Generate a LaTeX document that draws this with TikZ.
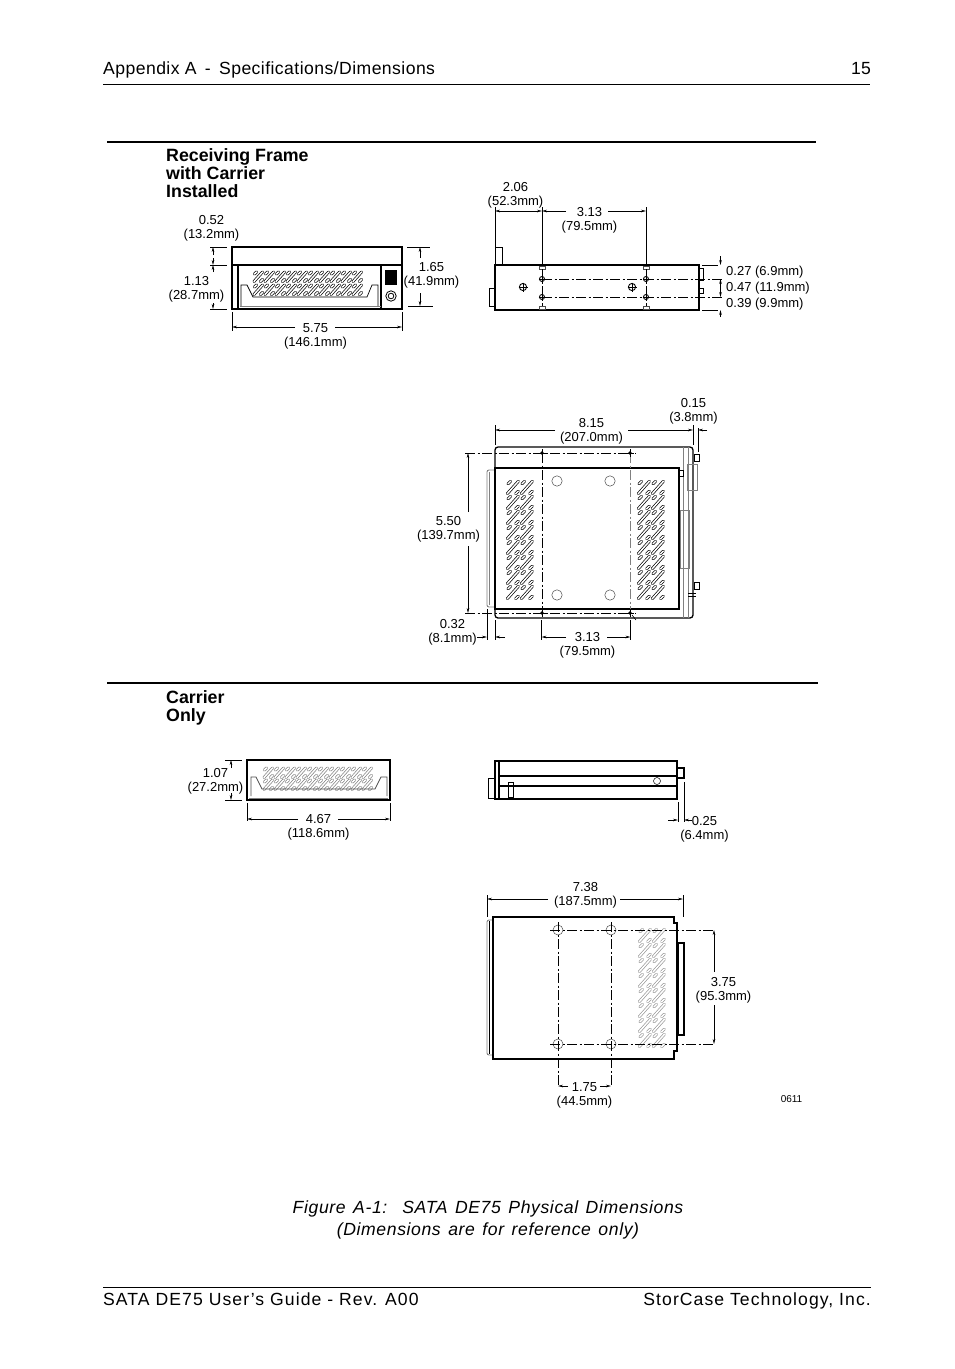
\documentclass[tikz,border=0pt]{standalone}
\usepackage{fontspec}
\setmainfont{Liberation Sans}
\usetikzlibrary{arrows.meta}
\newcommand{\capgap}{\hskip 7.5pt\relax}
\tikzset{
	dimtext/.style={font=\fontsize{13}{14}\selectfont, align=center, inner sep=0pt, yshift=-1.5pt, xshift=0.5pt},
	dimside/.style={font=\fontsize{13}{14}\selectfont, anchor=west, inner sep=0pt, yshift=-1.5pt},
	head/.style={font=\fontsize{17.8}{18}\selectfont\bfseries, align=left, anchor=north west, inner sep=0pt},
	pagetext/.style={font=\fontsize{17.6}{20}\selectfont, inner sep=0pt},
	body/.style={line width=1.3pt},
	heavy/.style={line width=1.8pt},
	greyline/.style={line width=0.9pt, draw=black!50},
	ext/.style={line width=0.7pt},
	dim/.style={line width=0.7pt, -{Stealth[length=5pt,width=2.6pt]}},
	center line/.style={line width=0.7pt, dash pattern=on 10pt off 2.5pt on 2pt off 2.5pt},
	ventcell/.pic={
		\draw[draw=#1, line width=0.7pt, double=white, double distance=1.5pt, line cap=round] (1,10.5) -- (9.5,1);
		\draw[draw=#1, line width=0.7pt, double=white, double distance=1.5pt, line cap=round] (1.5,3) -- (3.5,1) (7.5,10.5) -- (9.5,8.5);
	},
	bighole/.pic={
		\draw[line width=0.9pt] (0,0) circle [radius=3.6];
		\draw[line width=0.7pt] (-4.5,0) -- (4.5,0) (0,-4.5) -- (0,4.5);
	}
}
\begin{document}
\begin{tikzpicture}[x=1pt, y=-1pt]
	\useasboundingbox (0,0) rectangle (954,1369);
	\fill[white] (0,0) rectangle (954,1369);

	% page head and foot
	\node[pagetext, anchor=base west] (headleft) at (103,74) {\addfontfeature{LetterSpace=2.5}Appendix A \,-\, Specifications/Dimensions};
	\node[pagetext, anchor=base east] (headright) at (871,74) {15};
	\draw[line width=0.7pt] (103,84) -- (870,84);
	\draw[line width=0.7pt] (103,1287) -- (871,1287);
	\node[pagetext, anchor=base west] (footleft) at (103,1305) {\addfontfeature{LetterSpace=6}SATA DE75 User's Guide - Rev. A00};
	\node[pagetext, anchor=base east] (footright) at (871,1305) {\addfontfeature{LetterSpace=6}StorCase Technology, Inc.};
	\node[pagetext, align=center, font=\fontsize{17.6}{22}\selectfont\itshape\addfontfeature{LetterSpace=3.5}] (caption) at (488,1220) {Figure\capgap A-1:\capgap\capgap SATA\capgap DE75\capgap Physical\capgap Dimensions\\(Dimensions\capgap are\capgap for\capgap reference\capgap only)};

	% section rules
	\draw[line width=2pt] (107,142) -- (816,142);
	\draw[line width=2pt] (107,683) -- (818,683);
	\node[head] (headframe) at (166,148.5) {Receiving Frame\\with Carrier\\Installed};
	\node[head] (headcarrier) at (166,690.5) {Carrier\\Only};

	% frame, front view
	\draw[body] (232,247) rectangle (402,309);
	\draw[body] (232,265) -- (402,265);
	\draw[body] (238,265) -- (238,309) (381,265) -- (381,309);
	\draw[greyline] (240,306) -- (381,306);
	\fill (385,270) rectangle (397,285);
	\draw[line width=0.8pt] (391,296) circle [radius=5.2];
	\draw[line width=0.8pt] (391,296) circle [radius=2.8];
	\foreach \i in {0,...,9} \foreach \j in {0,1}
		\pic at (253+\i*11,271+\j*13) {ventcell=black};
	\draw[line width=0.7pt] (241,306) -- (241,285) -- (247,285) -- (253,297) -- (367,297) -- (372,285) -- (378,285) -- (378,306);
	\draw[ext] (210,247) -- (227,247) (210,265) -- (227,265) (210,309) -- (227,309);
	\draw[dim] (213,255) -- (213,247);
	\draw[dim] (213,258) -- (213,265);
	\draw[dim] (213,272) -- (213,265);
	\draw[dim] (213,303) -- (213,309);
	\draw[ext] (407,247) -- (430,247) (408,306) -- (433,306);
	\draw[dim] (420,258) -- (420,247);
	\draw[dim] (420,293) -- (420,306);
	\draw[ext] (232,312) -- (232,331) (402,312) -- (402,331);
	\draw[dim] (295,327) -- (232,327);
	\draw[dim] (335,327) -- (402,327);
	\node[dimtext] (dimA) at (211,226.5) {0.52\\(13.2mm)};
	\node[dimtext] (dimB) at (196,288) {1.13\\(28.7mm)};
	\node[dimtext] (dimC) at (431,273.5) {1.65\\(41.9mm)};
	\node[dimtext] (dimD) at (315,334.5) {5.75\\(146.1mm)};

	% frame, side view
	\draw[heavy] (495,265) rectangle (699,310);
	\draw[line width=0.8pt] (495,247) rectangle (502,265);
	\draw[line width=0.6pt] (489,288) rectangle (495,306);
	\draw[line width=0.7pt] (699,268) rectangle (703,280) (699,288) rectangle (703,293);
	\foreach \x in {542,646} {
		\draw[line width=0.5pt, draw=black!70] (\x-3,266) rectangle (\x+3,269);
		\draw[line width=0.5pt, draw=black!70] (\x-3,306) rectangle (\x+3,309);
		\draw[ext] (\x,207) -- (\x,265);
		\pic[scale=0.7] at (\x,279) {bighole};
		\pic[scale=0.7] at (\x,297) {bighole};
	}
	\pic at (523,287) {bighole};
	\pic at (632,287) {bighole};
	\draw[center line] (542,279) -- (722,279);
	\draw[center line] (542,297) -- (722,297);
	\draw[center line] (542,269) -- (542,306);
	\draw[center line] (646,269) -- (646,306);
	\draw[ext] (495,207) -- (495,247);
	\draw[dim] (520,211) -- (495,211);
	\draw[dim] (520,211) -- (542,211);
	\draw[dim] (566,211) -- (542,211);
	\draw[dim] (608,211) -- (646,211);
	\draw[ext] (702,265) -- (718,265) (702,310) -- (718,310);
	\draw[dim] (720.5,256) -- (720.5,265);
	\draw[dim] (720.5,288) -- (720.5,279);
	\draw[dim] (720.5,288) -- (720.5,297);
	\draw[dim] (720.5,317) -- (720.5,310);
	\node[dimtext] (dimE) at (515,193.5) {2.06\\(52.3mm)};
	\node[dimtext] (dimF) at (589,219) {3.13\\(79.5mm)};
	\node[dimside] (dimG) at (726,271) {0.27 (6.9mm)};
	\node[dimside] (dimH) at (726,287) {0.47 (11.9mm)};
	\node[dimside] (dimI) at (726,303) {0.39 (9.9mm)};

	% frame, top view
	\draw[body, rounded corners=3pt] (495,447) -- (693,447) -- (693,618) -- (495,618) -- cycle;
	\draw[greyline] (683,447) -- (683,618) (688,447) -- (688,618);
	\draw[greyline, rounded corners=2pt] (495,470) -- (487,470) -- (487,607) -- (495,607);
	\draw[greyline] (489,472) -- (489,605);
	\draw[line width=0.7pt] (694,454) rectangle (699,461) (694,582) rectangle (699,589);
	\draw[line width=0.7pt] (679,470) rectangle (683,476);
	\draw[greyline] (687,464) rectangle (697,490);
	\draw[greyline] (680,510) rectangle (689,568);
	\draw[line width=0.7pt] (688,593) -- (696,593) (688,596) -- (696,596);
	\fill[white] (495,468) rectangle (679,609);
	\draw[heavy] (495,468) rectangle (679,609);
	\foreach \i in {0,1} \foreach \j in {0,...,7} {
		\pic[scale=1.3] at (506+\i*14,480+\j*15) {ventcell=black};
		\pic[scale=1.3] at (637+\i*14,480+\j*15) {ventcell=black};
	}
	\foreach \x in {557,610} \foreach \y in {481,595}
		\draw[line width=0.5pt, draw=black!70] (\x,\y) circle [radius=5.2];
	\draw[center line] (465,453) -- (636,453);
	\draw[center line] (465,613) -- (636,613);
	\draw[center line] (542,453) -- (542,613);
	\draw[center line, draw=black!50] (630,453) -- (630,613);
	\foreach \x in {542,630} \foreach \y in {453,613} {
		\fill (\x,\y) circle [radius=1.8];
		\draw[line width=0.6pt] (\x-4,\y) -- (\x+4,\y) (\x,\y-4) -- (\x,\y+4);
	}
	\draw[line width=0.6pt] (632,615) -- (636,620);
	\draw[ext] (495,425) -- (495,445) (693,425) -- (693,445) (698,428) -- (698,452);
	\draw[dim] (555,430) -- (495,430);
	\draw[dim] (628,430) -- (693,430);
	\draw[dim] (707,430) -- (698,430);
	\draw[dim] (468,512) -- (468,453);
	\draw[dim] (468,546) -- (468,613);
	\draw[ext] (487,609) -- (487,640) (495,620) -- (495,640);
	\draw[ext] (541.5,620) -- (541.5,640) (630.5,620) -- (630.5,640);
	\draw[dim] (477,637) -- (487,637);
	\draw[dim] (505,637) -- (495,637);
	\draw[dim] (566,637) -- (541.5,637);
	\draw[dim] (607,637) -- (630.5,637);
	\node[dimtext] (dimJ) at (693,409.5) {0.15\\(3.8mm)};
	\node[dimtext] (dimK) at (591,429.5) {8.15\\(207.0mm)};
	\node[dimtext] (dimL) at (448,528) {5.50\\(139.7mm)};
	\node[dimtext] (dimM) at (452,631) {0.32\\(8.1mm)};
	\node[dimtext] (dimN) at (587,644) {3.13\\(79.5mm)};

	% carrier, front view
	\draw[heavy] (247,760) rectangle (390,800);
	\draw[greyline] (249,798) -- (388,798);
	\foreach \i in {0,...,9} \foreach \j in {0,1}
		\pic at (263+\i*11,767+\j*12) {ventcell=black!50};
	\draw[line width=0.7pt, draw=black!70] (251,796) -- (251,777) -- (256,777) -- (262,789) -- (375,789) -- (381,777) -- (387,777) -- (387,796);
	\draw[ext] (225,760) -- (242,760) (225,800) -- (242,800);
	\draw[dim] (231,768) -- (231,760);
	\draw[dim] (231,793) -- (231,800);
	\draw[ext] (247,803) -- (247,821) (390,803) -- (390,821);
	\draw[dim] (298,819) -- (247,819);
	\draw[dim] (338,819) -- (390,819);
	\node[dimtext] (dimO) at (215,780) {1.07\\(27.2mm)};
	\node[dimtext] (dimP) at (318,826) {4.67\\(118.6mm)};

	% carrier, side view
	\draw[body] (495,761) rectangle (677,799);
	\draw[heavy] (499,761) -- (499,799);
	\draw[body] (499,776) -- (677,776) (499,786) -- (677,786);
	\draw[line width=0.7pt] (488,778) rectangle (495,798);
	\draw[line width=0.7pt] (508,782) rectangle (513,797);
	\draw[heavy] (677,768) -- (684,768) -- (684,778) -- (677,778);
	\draw[line width=0.5pt] (657,781) circle [radius=3.5];
	\draw[ext] (678,802) -- (678,822) (684,782) -- (684,822);
	\draw[dim] (668,820) -- (678,820);
	\draw[dim] (692,820) -- (684,820);
	\node[dimtext] (dimQ) at (704,827.5) {0.25\\(6.4mm)};

	% carrier, top view
	\draw[greyline, rounded corners=2pt] (493,920) -- (487,920) -- (487,1055) -- (493,1055);
	\draw[line width=0.6pt] (489,921) -- (489,1054);
	\draw[body] (493,917) -- (674,917) -- (674,923) -- (677,923) -- (677,1051) -- (674,1051) -- (674,1059) -- (493,1059) -- cycle;
	\draw[heavy] (678,943) rectangle (684,1035);
	\foreach \i in {0,1} \foreach \j in {0,...,7}
		\pic[scale=1.3] at (638+\i*14,928+\j*15) {ventcell=black!40};
	\foreach \x in {558,611} \foreach \y in {930,1044}
		\draw[line width=0.5pt, draw=black!70] (\x,\y) circle [radius=5];
	\draw[center line] (550,930) -- (715,930);
	\draw[center line] (550,1044) -- (715,1044);
	\draw[center line] (558,922) -- (558,1087);
	\draw[center line] (611,922) -- (611,1087);
	\draw[ext] (487,895) -- (487,917) (683,895) -- (683,917);
	\draw[dim] (548,899) -- (487,899);
	\draw[dim] (620,899) -- (683,899);
	\draw[dim] (714,972) -- (714,930);
	\draw[dim] (714,1005) -- (714,1044);
	\draw[dim] (568,1086) -- (558,1086);
	\draw[dim] (600,1086) -- (611,1086);
	\node[dimtext] (dimR) at (585,893.5) {7.38\\(187.5mm)};
	\node[dimtext] (dimS) at (723,988.5) {3.75\\(95.3mm)};
	\node[dimtext] (dimT) at (584,1093.5) {1.75\\(44.5mm)};
	\node[dimtext, font=\fontsize{10}{12}\selectfont] (partno) at (791,1098) {0611};
\end{tikzpicture}
\end{document}
